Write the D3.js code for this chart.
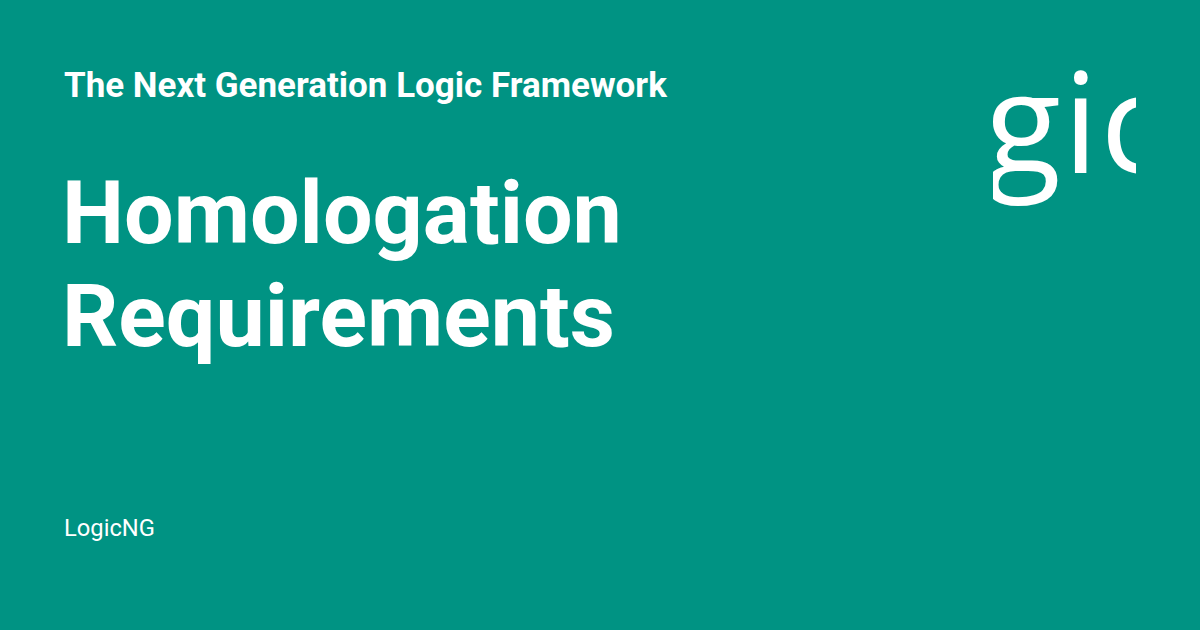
<!DOCTYPE html>
<html>
<head>
<meta charset="utf-8">
<script src="https://cdn.jsdelivr.net/npm/d3@7"></script>
<style>
  html, body { margin: 0; padding: 0; background: #009383; }
  svg { display: block; }
</style>
</head>
<body>
<script>
// Content
const subtitleText = ["The Next Generation Logic Framework"];
const titleLines = ["Homologation", "Requirements"];
const footerText = ["LogicNG"];
const logoText = ["gic"];

const W = 1200, H = 630;
const svg = d3.select("body").append("svg").attr("width", W).attr("height", H);
svg.append("rect").attr("width", W).attr("height", H).attr("fill", "#009383");

// helper: fit font size to a target width
function fit(sel, target) {
  const w = sel.node().getComputedTextLength();
  const fs = parseFloat(sel.attr("font-size"));
  sel.attr("font-size", fs * target / w);
}

const yTitle = d3.scalePoint().domain(titleLines).range([243, 346]);

svg.selectAll("text.sub").data(subtitleText).join("text")
  .attr("class", "sub")
  .attr("x", 64).attr("y", 97)
  .attr("font-family", "Roboto").attr("font-weight", 700)
  .attr("font-size", 32).attr("fill", "#fff")
  .text(d => d)
  .each(function () { fit(d3.select(this), 603); });

svg.selectAll("text.title").data(titleLines).join("text")
  .attr("class", "title")
  .attr("x", 62).attr("y", d => yTitle(d))
  .attr("font-family", "Roboto").attr("font-weight", 700)
  .attr("font-size", 88).attr("fill", "#fff")
  .text(d => d);
const t0 = svg.select("text.title").node().getComputedTextLength();
svg.selectAll("text.title").attr("font-size", 88 * 560 / t0);

svg.selectAll("text.foot").data(footerText).join("text")
  .attr("class", "foot")
  .attr("x", 64).attr("y", 536)
  .attr("font-family", "Roboto").attr("font-weight", 400)
  .attr("font-size", 22).attr("fill", "#fff")
  .text(d => d)
  .each(function () { fit(d3.select(this), 91); });

// logo (clipped)
svg.append("clipPath").attr("id", "logoClip")
  .append("rect").attr("x", 993).attr("y", 40).attr("width", 143).attr("height", 180);
svg.append("g").attr("clip-path", "url(#logoClip)")
  .selectAll("text").data(logoText).join("text")
  .attr("x", 985).attr("y", 173)
  .attr("font-family", "Open Sans").attr("font-weight", 400)
  .attr("letter-spacing", 2)
  .attr("font-size", 140).attr("fill", "#fff")
  .text(d => d);
</script>
</body>
</html>
